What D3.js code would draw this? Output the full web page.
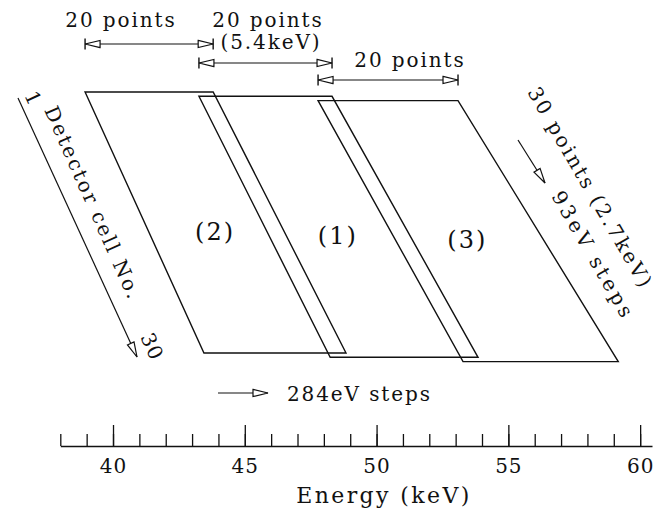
<!DOCTYPE html>
<html>
<head>
<meta charset="utf-8">
<script src="https://cdn.jsdelivr.net/npm/d3@7"></script>
<style>
  body { margin: 0; background: #fff; }
  text { font-family: "DejaVu Serif", serif; fill: #111; }
</style>
</head>
<body>
<svg id="chart" width="659" height="512"></svg>
<script>
// energy axis (keV)
const energyTicks = d3.range(38, 61)
const majorTicks = [40, 45, 50, 55, 60]
// scan regions, corner energies (keV)
const regionNames = ["(2)", "(1)", "(3)"]
const topStart = [38.94, 43.26, 47.78]
const topEnd = [43.80, 48.31, 53.09]
const botStart = [43.45, 48.24, 53.28]
const botEnd = [48.84, 53.85, 59.17]
// detector cells
const cellRange = [1, 30]
// scan width labels
const scanLabels = ["20 points", "20 points", "20 points"]
const scanSubLabels = ["", "(5.4keV)", ""]

const svg = d3.select("#chart")
const ink = "#111"
const FS = 20, LS = 1.9

const x = d3.scaleLinear().domain([38, 60.45]).range([60.3, 652])
const y = d3.scaleLinear().domain(cellRange).range([92, 353])
const STAGGER = 4.3

// markers: open triangle heads
const defs = svg.append("defs")
defs.append("marker")
  .attr("id", "head")
  .attr("markerUnits", "userSpaceOnUse")
  .attr("viewBox", "-1 -5 17 10")
  .attr("refX", 15).attr("refY", 0)
  .attr("markerWidth", 17).attr("markerHeight", 10)
  .attr("orient", "auto-start-reverse")
  .append("path")
  .attr("d", "M0,-3.6L15,0L0,3.6Z")
  .attr("fill", "#fff").attr("stroke", ink).attr("stroke-width", 1.2)

// regions
regionNames.forEach((name, i) => {
  const dy = i * STAGGER
  const pts = [
    [x(topStart[i]), y(cellRange[0]) + dy],
    [x(topEnd[i]), y(cellRange[0]) + dy],
    [x(botEnd[i]), y(cellRange[1]) + dy],
    [x(botStart[i]), y(cellRange[1]) + dy]
  ]
  svg.append("path")
    .attr("d", d3.line()(pts) + "Z")
    .attr("fill", "none").attr("stroke", ink).attr("stroke-width", 1.4)
  const cx = d3.mean(pts, p => p[0]), cy = d3.mean(pts, p => p[1])
  svg.append("text")
    .attr("x", cx + 3).attr("y", cy + 17)
    .attr("text-anchor", "middle")
    .style("font-size", "24px").style("letter-spacing", "2px")
    .text(name)
})

// scan width arrows along the top
const arrowY = [44, 63, 80]
const labelPos = [[121, 27], [268, 27], [410, 67]]
scanLabels.forEach((lab, i) => {
  const x0 = x(topStart[i]), x1 = x(topEnd[i])
  svg.append("line")
    .attr("x1", x0).attr("x2", x1).attr("y1", arrowY[i]).attr("y2", arrowY[i])
    .attr("stroke", ink).attr("stroke-width", 1.2)
    .attr("marker-start", "url(#head)").attr("marker-end", "url(#head)")
  ;[x0, x1].forEach(xx => svg.append("line")
    .attr("x1", xx).attr("x2", xx).attr("y1", arrowY[i] - 5.5).attr("y2", arrowY[i] + 5.5)
    .attr("stroke", ink).attr("stroke-width", 1.4))
  svg.append("text")
    .attr("x", labelPos[i][0]).attr("y", labelPos[i][1])
    .attr("text-anchor", "middle")
    .style("font-size", FS + "px").style("letter-spacing", LS + "px")
    .text(lab)
  if (scanSubLabels[i])
    svg.append("text")
      .attr("x", labelPos[i][0] + 3).attr("y", labelPos[i][1] + 22)
      .attr("text-anchor", "middle")
      .style("font-size", FS + "px").style("letter-spacing", LS + "px")
      .text(scanSubLabels[i])
})

// detector cell arrow (left)
svg.append("line")
  .attr("x1", 18).attr("y1", 98).attr("x2", 137).attr("y2", 357)
  .attr("stroke", ink).attr("stroke-width", 1.2)
  .attr("marker-end", "url(#head)")
const rotText = (tx, ty, ang, txt, ls) => svg.append("text")
  .attr("transform", `translate(${tx},${ty}) rotate(${ang})`)
  .style("font-size", FS + "px").style("letter-spacing", ls + "px")
  .text(txt)
rotText(24, 95, 65, cellRange[0], 0)
rotText(44, 110, 66, "Detector cell No.", 2.2)
rotText(140, 337, 65, cellRange[1], 1)

// cell step arrow (right)
svg.append("line")
  .attr("x1", 518).attr("y1", 140).attr("x2", 545).attr("y2", 183)
  .attr("stroke", ink).attr("stroke-width", 1.2)
  .attr("marker-end", "url(#head)")
rotText(527, 92, 60, "30 points (2.7keV)", 2.4)
rotText(551, 196, 60, "93eV steps", 3.4)

// energy step arrow (bottom)
svg.append("line")
  .attr("x1", 218).attr("x2", 268).attr("y1", 393).attr("y2", 393)
  .attr("stroke", ink).attr("stroke-width", 1.2)
  .attr("marker-end", "url(#head)")
svg.append("text")
  .attr("x", 287).attr("y", 401)
  .style("font-size", FS + "px").style("letter-spacing", LS + "px")
  .text("284eV steps")

// energy axis
const axisY = 446
const minorAxis = d3.axisBottom(x).tickValues(energyTicks)
  .tickSizeInner(-12).tickSizeOuter(0).tickFormat("")
svg.append("g").attr("transform", `translate(0,${axisY})`).call(minorAxis)
const majorAxis = d3.axisBottom(x).tickValues(majorTicks)
  .tickSizeInner(-21).tickSizeOuter(0).tickPadding(13).tickFormat(d3.format("d"))
const gMajor = svg.append("g").attr("transform", `translate(0,${axisY})`).call(majorAxis)
gMajor.select(".domain").remove()
svg.selectAll(".domain, .tick line").attr("stroke", ink).attr("stroke-width", 1.3)
gMajor.selectAll(".tick text")
  .attr("fill", ink)
  .style("font-family", "DejaVu Serif").style("font-size", "20px")
  .style("letter-spacing", "1px")

svg.append("text")
  .attr("x", 384).attr("y", 503)
  .attr("text-anchor", "middle")
  .style("font-size", "22px").style("letter-spacing", "2.4px")
  .text("Energy (keV)")
</script>
</body>
</html>
